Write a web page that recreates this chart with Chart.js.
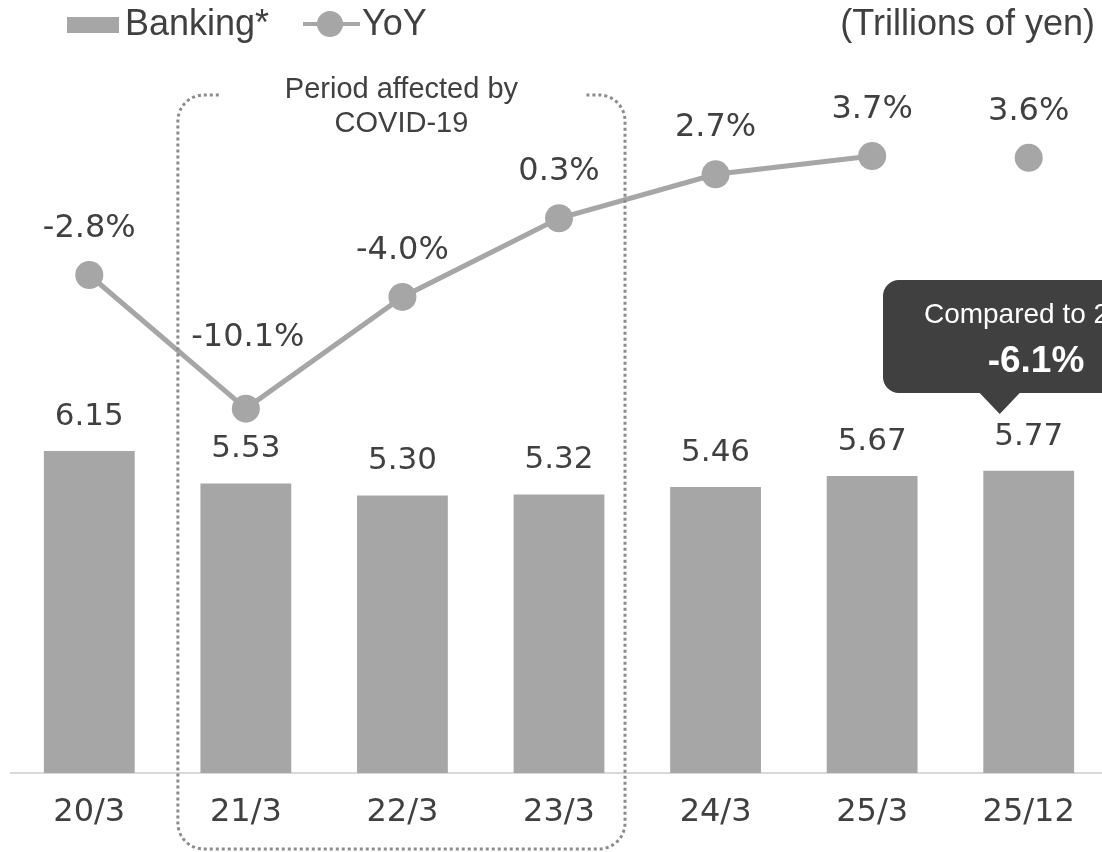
<!DOCTYPE html>
<html>
<head>
<meta charset="utf-8">
<script src="https://cdn.jsdelivr.net/npm/chart.js@4.4.1/dist/chart.umd.min.js"></script>
<style>
  html, body { margin: 0; padding: 0; overflow: hidden; background: #fff; }
  #wrap { position: relative; width: 1112px; height: 852px; }
  #chart { position: absolute; left: 0; top: 0; }
  .txt { position: absolute; top: 5px; font: 36px/36px "Liberation Sans", Arial, sans-serif; color: #404040; white-space: nowrap; }
  .swatch { position: absolute; left: 67px; top: 17px; width: 52px; height: 16px; background: #a6a6a6; }
  .yoy-line { position: absolute; left: 303px; top: 22px; width: 57px; height: 4px; background: #a6a6a6; }
  .yoy-dot { position: absolute; left: 317px; top: 11px; width: 26px; height: 26px; border-radius: 50%; background: #a6a6a6; }
</style>
</head>
<body>
<div id="wrap">
  <canvas id="chart" width="1112" height="852"></canvas>
  <div class="swatch"></div>
  <div class="txt" style="left:125px">Banking*</div>
  <div class="yoy-line"></div>
  <div class="yoy-dot"></div>
  <div class="txt" style="left:362px">YoY</div>
  <div class="txt" style="right:17px">(Trillions of yen)</div>
</div>
<script>
// data
const categories = ['20/3', '21/3', '22/3', '23/3', '24/3', '25/3', '25/12'];
const bankingValues = [6.15, 5.53, 5.30, 5.32, 5.46, 5.67, 5.77];
const yoyValues = [-2.8, -10.1, -4.0, 0.3, 2.7, 3.7, 3.6];

const covidText = ['Period affected by', 'COVID-19'];
const calloutText = ['Compared to 20/3', '-6.1%'];

const GRAY = '#a6a6a6';
const DARK = '#404040';
const SANS = '"Liberation Sans", Arial, sans-serif';
const NUM_FAMILY = '"DejaVu Sans", Verdana, sans-serif';

// value labels above bars and points
const valueLabels = {
  id: 'valueLabels',
  afterDatasetsDraw(chart) {
    const ctx = chart.ctx;
    ctx.save();
    ctx.fillStyle = DARK;
    ctx.textAlign = 'center';
    ctx.textBaseline = 'alphabetic';

    ctx.font = '31px ' + NUM_FAMILY;
    chart.getDatasetMeta(1).data.forEach((el, i) => {
      ctx.fillText(bankingValues[i].toFixed(2), el.x, el.y - 26);
    });

    ctx.font = '32px ' + NUM_FAMILY;
    chart.getDatasetMeta(0).data.forEach((el, i) => {
      // the -10.1% label sits higher so it clears the line
      const off = i === 1 ? 63 : 38;
      ctx.fillText(yoyValues[i].toFixed(1) + '%', el.x + (i === 1 ? 2 : 0), el.y - off);
    });
    ctx.restore();
  }
};

// dotted COVID box + callout
const annotations = {
  id: 'annotations',
  afterDraw(chart) {
    const ctx = chart.ctx;
    const xs = chart.scales.x;

    // dotted rounded box around 21/3 .. 23/3
    const left = xs.getPixelForValue(1) - 68;
    const right = xs.getPixelForValue(3) + 66;
    const top = 95, bottom = 849, r = 26;
    const cx = (left + right) / 2;

    ctx.save();
    ctx.font = '29px ' + SANS;
    const gap = ctx.measureText(covidText[0]).width / 2 + 66;

    ctx.strokeStyle = '#8c8c8c';
    ctx.lineWidth = 3;
    ctx.setLineDash([3, 3]);
    ctx.beginPath();
    ctx.moveTo(cx - gap, top);
    ctx.lineTo(left + r, top);
    ctx.arcTo(left, top, left, top + r, r);
    ctx.lineTo(left, bottom - r);
    ctx.arcTo(left, bottom, left + r, bottom, r);
    ctx.lineTo(right - r, bottom);
    ctx.arcTo(right, bottom, right, bottom - r, r);
    ctx.lineTo(right, top + r);
    ctx.arcTo(right, top, right - r, top, r);
    ctx.lineTo(cx + gap, top);
    ctx.stroke();
    ctx.setLineDash([]);

    ctx.fillStyle = DARK;
    ctx.textAlign = 'center';
    ctx.fillText(covidText[0], cx, 98);
    ctx.fillText(covidText[1], cx, 132);

    // callout over 25/12
    const tipX = xs.getPixelForValue(6) - 29;
    const bl = 883, bt = 280, bb = 393, br = 1189, rr = 16;
    ctx.fillStyle = DARK;
    ctx.beginPath();
    ctx.moveTo(bl + rr, bt);
    ctx.lineTo(br - rr, bt);
    ctx.arcTo(br, bt, br, bt + rr, rr);
    ctx.lineTo(br, bb - rr);
    ctx.arcTo(br, bb, br - rr, bb, rr);
    ctx.lineTo(tipX + 20, bb);
    ctx.lineTo(tipX, 414);
    ctx.lineTo(tipX - 20, bb);
    ctx.lineTo(bl + rr, bb);
    ctx.arcTo(bl, bb, bl, bb - rr, rr);
    ctx.lineTo(bl, bt + rr);
    ctx.arcTo(bl, bt, bl + rr, bt, rr);
    ctx.closePath();
    ctx.fill();

    const tx = (bl + br) / 2;
    ctx.fillStyle = '#ffffff';
    ctx.font = '28px ' + SANS;
    ctx.fillText(calloutText[0], tx, 323);
    ctx.font = 'bold 37px ' + SANS;
    ctx.fillText(calloutText[1], tx, 372);
    ctx.restore();
  }
};

new Chart(document.getElementById('chart').getContext('2d'), {
  type: 'bar',
  data: {
    labels: categories,
    datasets: [
      {
        type: 'line',
        label: 'YoY',
        data: yoyValues,
        yAxisID: 'y2',
        borderColor: GRAY,
        borderWidth: 5,
        pointRadius: 14,
        pointHoverRadius: 14,
        pointBackgroundColor: GRAY,
        pointBorderWidth: 0,
        // 25/12 is not joined to the annual points
        segment: { borderColor: c => c.p1DataIndex === 6 ? 'transparent' : GRAY },
        order: 0
      },
      {
        label: 'Banking*',
        data: bankingValues,
        yAxisID: 'y',
        backgroundColor: GRAY,
        barPercentage: 0.58,
        categoryPercentage: 1,
        order: 1
      }
    ]
  },
  options: {
    responsive: false,
    animation: false,
    layout: { autoPadding: false, padding: { left: 11, right: 5, top: 0, bottom: 0 } },
    plugins: {
      legend: { display: false },
      tooltip: { enabled: false }
    },
    scales: {
      x: {
        grid: { display: false },
        border: { color: '#d9d9d9', width: 2 },
        ticks: {
          color: DARK,
          font: { family: NUM_FAMILY, size: 32 },
          padding: 12
        },
        afterFit: s => { s.height = 79; }
      },
      y: { display: false, min: 0, max: 14.76 },
      y2: { display: false, min: -30.0, max: 12.22 }
    }
  },
  plugins: [valueLabels, annotations]
});
</script>
</body>
</html>
